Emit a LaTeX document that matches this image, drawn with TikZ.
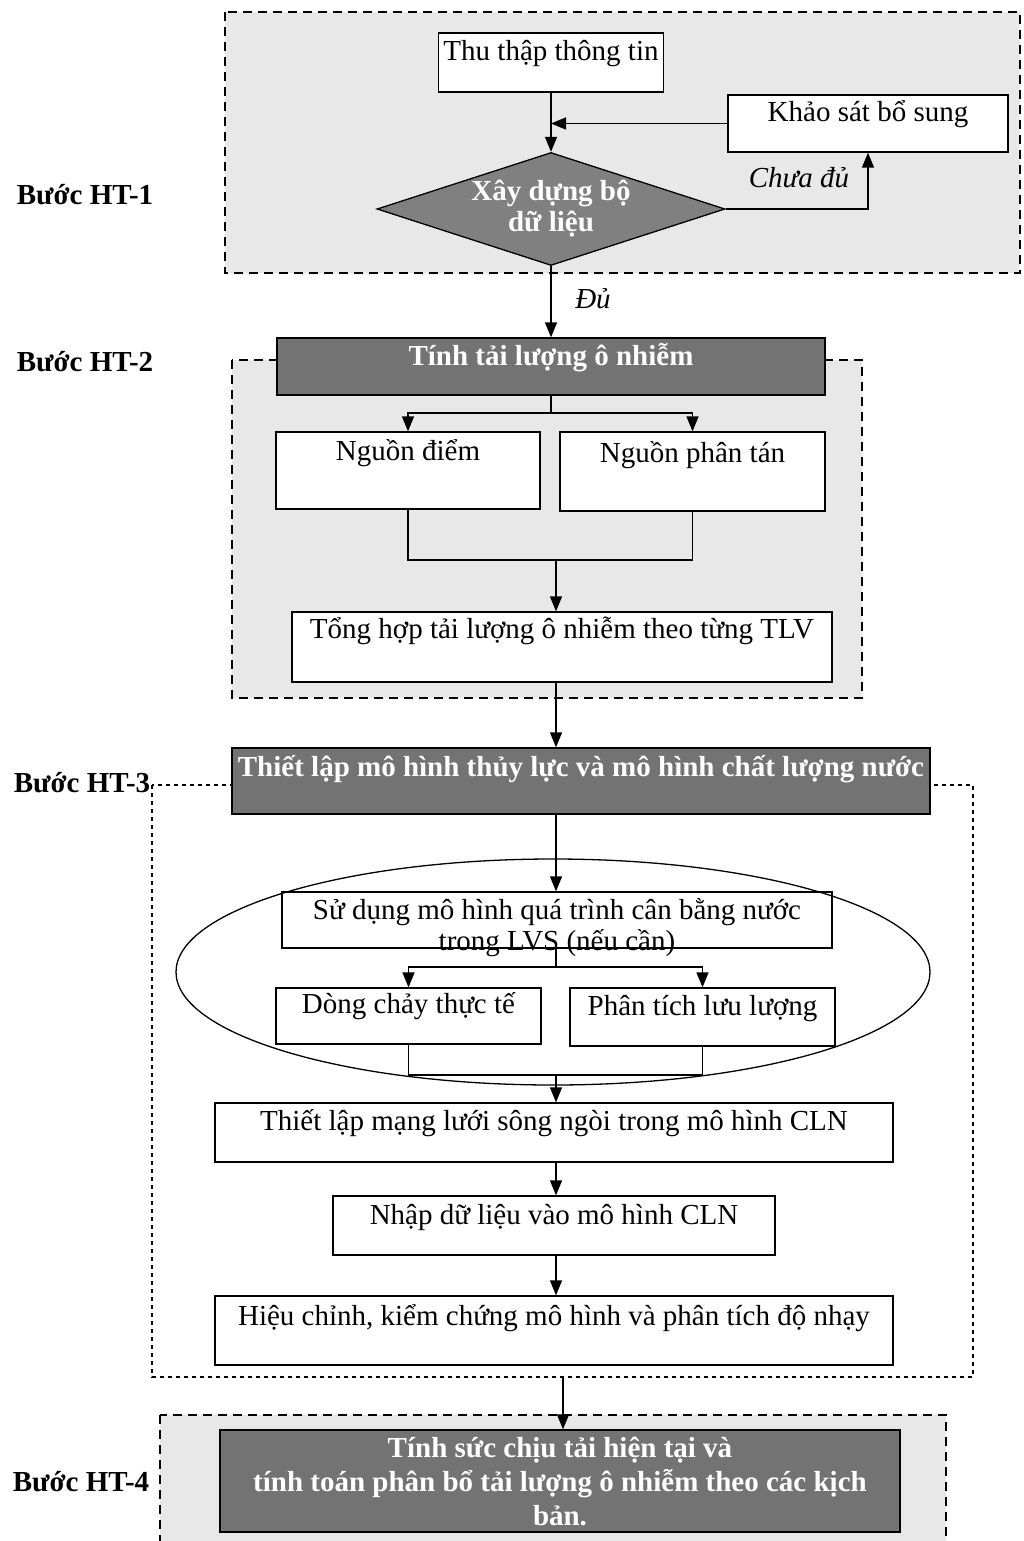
\documentclass[tikz,border=0pt]{standalone}
\usepackage{fontspec}
\setmainfont{Liberation Serif}
\usetikzlibrary{arrows.meta,shapes.geometric,calc}
\definecolor{darkfill}{gray}{0.45}
\definecolor{diamondfill}{gray}{0.50}
\definecolor{lightfill}{gray}{0.91}
\begin{document}
\begin{tikzpicture}[x=1pt,y=-1pt,
  every node/.style={font=\fontsize{29}{30}\selectfont},
  box/.style={draw, line width=1.3pt, fill=white, inner sep=0pt, text height=20pt},
  darkbox/.style={draw, line width=1.3pt, fill=darkfill, inner sep=0pt, text=white,
    font=\fontsize{29}{34}\selectfont\bfseries},
  frameA/.style={draw, line width=1.8pt, dash pattern=on 9pt off 6pt, fill=lightfill},
  frameB/.style={draw, line width=1.1pt, dash pattern=on 4pt off 4pt},
  link/.style={line width=1.3pt},
  arr/.style={link, -{Triangle[length=15pt,width=12pt]}},
  steplabel/.style={font=\fontsize{29}{30}\selectfont\bfseries},
  cond/.style={font=\fontsize{29}{30}\selectfont\itshape}
]
\useasboundingbox (0,0) rectangle (1023,1541);
\fill[white] (0,0) rectangle (1023,1541);

% ---------- step frames ----------
\draw[frameA] (225,12) rectangle (1020,273);
\draw[frameA] (232,360) rectangle (862,698);
\draw[frameB] (152,785) rectangle (973,1377);
\draw[frameA] (160,1415) rectangle (946,1570);

% ---------- step labels ----------
\node[steplabel] (s1) at (85,195) {Bước HT-1};
\node[steplabel] (s2) at (85,362) {Bước HT-2};
\node[steplabel] (s3) at (82,783) {Bước HT-3};
\node[steplabel] (s4) at (81,1482) {Bước HT-4};

% ---------- HT-1 ----------
\node[box, minimum width=225, minimum height=59, text depth=24pt] (thu) at (551,62.5) {Thu thập thông tin};
\node[box, minimum width=280, minimum height=57, text depth=24pt] (ks) at (868,123.5) {Khảo sát bổ sung};
\node[diamond, draw, line width=1.3pt, fill=diamondfill, minimum width=348, minimum height=113,
  aspect=3.08, inner sep=0pt, text=white, align=center,
  font=\fontsize{29}{31}\selectfont\bfseries] (dd) at (551,209) {Xây dựng bộ\\dữ liệu};

\draw[arr] (thu.south) -- (dd.north);
\draw[arr] (ks.west) -- (ks.west -| thu.south);
\draw[arr] (dd.east) -| (ks.south);
\node[cond] (c1) at (799,178) {Chưa đủ};

% ---------- HT-2 ----------
\node[darkbox, minimum width=548, minimum height=57, text height=20pt, text depth=22pt] (tl) at (551,366.5) {Tính tải lượng ô nhiễm};
\draw[arr] (dd.south) -- (tl.north);
\node[cond] (c2) at (593,299) {Đủ};

\node[box, minimum width=264, minimum height=77, text depth=40pt] (nd) at (408,470.5) {Nguồn điểm};
\node[box, minimum width=265, minimum height=79, text depth=38pt] (npt) at (692.5,471.5) {Nguồn phân tán};
\coordinate (b1) at (551,413);
\draw[link] (tl.south) -- (b1);
\draw[arr] (b1) -| (nd.north);
\draw[arr] (b1) -| (npt.north);

\node[box, minimum width=540, minimum height=70, text depth=37pt] (th) at (562,647) {Tổng hợp tải lượng ô nhiễm theo từng TLV};
\coordinate (m1) at (556,560);
\draw[link] (nd.south) |- (npt.south |- m1) -- (npt.south);
\draw[arr] (m1) -- (m1 |- th.north);

% ---------- HT-3 ----------
\node[darkbox, minimum width=698, minimum height=66, text height=20pt, text depth=29pt] (tl2) at (581,781) {Thiết lập mô hình thủy lực và mô hình chất lượng nước};
\draw[arr] (m1 |- th.south) -- (m1 |- tl2.north);

\node[box, minimum width=550, minimum height=56, text height=0pt] (use) at (557,920) {};
\node[anchor=base] (u1) at (557,919) {Sử dụng mô hình quá trình cân bằng nước};
\node[anchor=base] (u2) at (557,950) {trong LVS (nếu cần)};
\draw[arr] (m1 |- tl2.south) -- (m1 |- use.north);
\node[draw, ellipse, line width=1.3pt, minimum width=754, minimum height=226] (ell) at (553,972) {};

\node[box, minimum width=265, minimum height=56, text depth=25pt] (dc) at (408.5,1016) {Dòng chảy thực tế};
\node[box, minimum width=265, minimum height=58, text depth=23pt] (pt) at (702.5,1017) {Phân tích lưu lượng};
\coordinate (b2) at (556,967);
\draw[link] (m1 |- use.south) -- (b2);
\draw[arr] (b2) -| (dc.north);
\draw[arr] (b2) -| (pt.north);

\node[box, minimum width=678, minimum height=59, text depth=24pt] (ml) at (554,1132.5) {Thiết lập mạng lưới sông ngòi trong mô hình CLN};
\coordinate (m2) at (556,1075);
\draw[link] (dc.south) |- (pt.south |- m2) -- (pt.south);
\draw[arr] (m2) -- (m2 |- ml.north);

\node[box, minimum width=442, minimum height=59, text depth=22pt] (nh) at (554,1225.5) {Nhập dữ liệu vào mô hình CLN};
\draw[arr] (m2 |- ml.south) -- (m2 |- nh.north);

\node[box, minimum width=678, minimum height=69, text depth=30pt] (hc) at (554,1330.5) {Hiệu chỉnh, kiểm chứng mô hình và phân tích độ nhạy};
\draw[arr] (m2 |- nh.south) -- (m2 |- hc.north);

% ---------- HT-4 ----------
\node[darkbox, minimum width=680, minimum height=102, align=center] (ts) at (560,1481)
  {Tính sức chịu tải hiện tại và\\tính toán phân bổ tải lượng ô nhiễm theo các kịch\\bản.};
\coordinate (o3) at (563,1377);
\draw[arr] (o3) -- (o3 |- ts.north);

\end{tikzpicture}
\end{document}
